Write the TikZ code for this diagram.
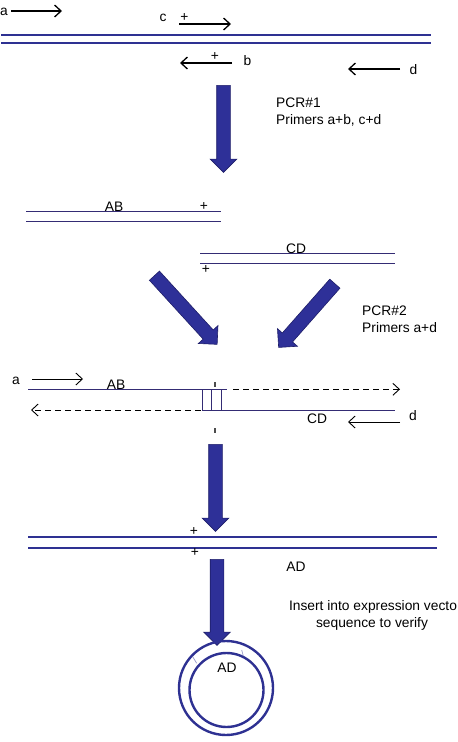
\documentclass[tikz,border=0pt]{standalone}
\usepackage{fontspec}
\setmainfont{Liberation Sans}
\usetikzlibrary{arrows.meta,shapes.arrows}

\definecolor{brin}{RGB}{46,49,146}
\definecolor{brinfin}{RGB}{52,44,116}
\definecolor{fleche}{RGB}{46,48,152}
\definecolor{flechebord}{RGB}{30,30,104}

\tikzset{
  txt/.style={font=\fontsize{13.8}{16}\selectfont, inner sep=0pt},
  amorce/.style={line width=1.3pt, -{Straight Barb[length=6.5pt,width=12pt]}},
  amorcefine/.style={line width=0.9pt, -{Straight Barb[length=6.5pt,width=12pt]}},
  grosbrin/.style={brin, line width=2pt},
  finbrin/.style={brinfin, line width=1pt},
  tirets/.style={line width=0.9pt, dash pattern=on 6pt off 4pt, -{Straight Barb[length=6.5pt,width=12pt]}},
  grossefleche/.style={single arrow, draw=flechebord, fill=fleche, line width=0.6pt,
    inner xsep=0pt, inner ysep=6.5pt, single arrow head extend=6.5pt}
}

\begin{document}
\begin{tikzpicture}[x=1pt, y=-1pt]
    \useasboundingbox (0,0) rectangle (458,742);

    % Matrice et amorces
    \draw[grosbrin] (1,34.5) -- (431,34.5);
    \draw[grosbrin] (1,43) -- (431,43);
    \draw[amorce] (11,11) -- (62,11);
    \draw[amorce] (179,24) -- (231,24);
    \draw[amorce] (232,63) -- (180,63);
    \draw[amorce] (400,69) -- (348,69);
    \node[txt] (a1) at (4,12) {a};
    \node[txt] (c1) at (163,18) {c};
    \node[txt] (plusc) at (184.5,17.5) {+};
    \node[txt] (plusb) at (215,57) {+};
    \node[txt] (b1) at (247.5,61) {b};
    \node[txt] (d1) at (413.5,69.5) {d};

    % PCR 1
    \node[grossefleche, minimum height=87pt, rotate=-90] (pcr1) at (223.5,125.5) {};
    \node[txt, anchor=base west] (pcr1t) at (276,107) {PCR\#1};
    \node[txt, anchor=base west] (pcr1p) at (276,124) {Primers a+b, c+d};

    % Produits AB et CD
    \draw[finbrin] (26,211.3) -- (221,211.3);
    \draw[finbrin] (26,221) -- (221,221);
    \node[txt] (ab) at (114,207) {AB};
    \node[txt] (plusab) at (204,206.5) {+};
    \draw[finbrin] (200,253.3) -- (395,253.3);
    \draw[finbrin] (200,263) -- (395,263);
    \node[txt] (cd) at (296,249) {CD};
    \node[txt] (pluscd) at (206,270) {+};

    % PCR 2
    \node[grossefleche, minimum height=93pt, rotate=-47.6] (versg) at (183.5,307.5) {};
    \node[grossefleche, minimum height=85pt, rotate=-131.4] (versd) at (309,313) {};
    \node[txt, anchor=base west] (pcr2t) at (362,315) {PCR\#2};
    \node[txt, anchor=base west] (pcr2p) at (362,332) {Primers a+d};

    % Hybride AB/CD
    \draw[finbrin] (28,389.3) -- (227,389.3);
    \draw[tirets] (233,389.3) -- (400,389.3);
    \draw[finbrin] (202,410) -- (395,410);
    \draw[tirets] (201,410) -- (31,410);
    \foreach \xb in {202.3,211.7,221.7}
      \draw[finbrin] (\xb,389.3) -- (\xb,410);
    \draw[line width=1.2pt, black!70] (215,382) -- (215,387);
    \draw[line width=1.2pt, black!70] (215,428) -- (215,433);
    \draw[amorcefine] (32,379) -- (83,379);
    \draw[amorcefine] (400,422) -- (348,422);
    \node[txt] (a2) at (16,381) {a};
    \node[txt] (ab2) at (116,385) {AB};
    \node[txt] (cd2) at (317,419) {CD};
    \node[txt] (d2) at (413,416) {d};

    % Produit AD
    \node[grossefleche, minimum height=87pt, rotate=-90] (pcr3) at (215.5,484.5) {};
    \draw[grosbrin] (28,536.7) -- (437,536.7);
    \draw[grosbrin] (28,547.7) -- (437,547.7);
    \node[txt] (plusad) at (194,532) {+};
    \node[txt] (plusad2) at (195,552.5) {+};
    \node[txt] (ad) at (296,567) {AD};

    % Vecteur
    \node[grossefleche, minimum height=86pt, rotate=-90] (clonage) at (217,599) {};
    \node[txt, anchor=base] (ins1) at (373,610) {Insert into expression vecto};
    \node[txt, anchor=base] (ins2) at (372,627) {sequence to verify};
    \draw[grosbrin, line width=2.4pt] (226,688) circle (47);
    \draw[grosbrin, line width=2.4pt] (226.5,690) circle (37);
    \draw[brin!50, line width=0.7pt] (192.7,656.7) -- (196.7,663.3);
    \draw[brin!50, line width=0.7pt] (241.7,650) -- (243.3,656);
    \node[txt] (adv) at (227,668) {AD};
\end{tikzpicture}
\end{document}
